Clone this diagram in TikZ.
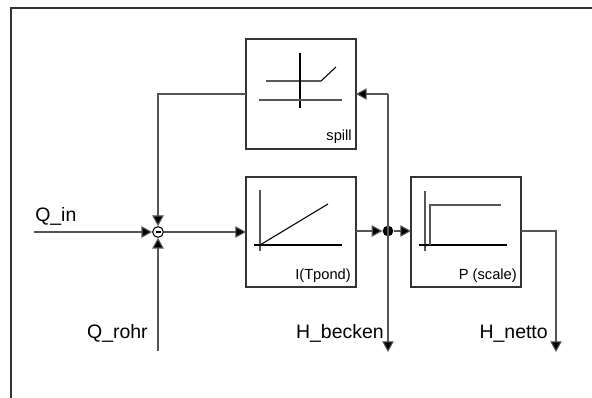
\documentclass[tikz,border=0pt]{standalone}
\usepackage{fontspec}
\setmainfont{Liberation Sans}
\usetikzlibrary{arrows.meta}
\definecolor{ln}{HTML}{555555}
\definecolor{bx}{HTML}{333333}
\tikzset{
  blk/.style={draw=bx, line width=0.9pt, minimum width=82.5pt, minimum height=82.5pt, inner sep=0pt, outer sep=0pt},
  conn/.style={draw=ln, line width=0.8pt},
  arr/.style={conn, -{Triangle[length=8pt,width=8.5pt,fill=black]}},
  lbl/.style={font=\fontsize{14.6}{16}\selectfont, inner sep=0pt},
  slbl/.style={font=\fontsize{11}{13}\selectfont, inner sep=0pt},
  icon/.style={line width=0.8pt, draw=black},
  icong/.style={line width=0.8pt, draw=ln},
}
\begin{document}
\begin{tikzpicture}[x=0.75pt,y=-0.75pt]
\useasboundingbox (0,0) rectangle (592,398);
\fill[white] (0,0) rectangle (592,398);
% frame
\draw[draw=bx, line width=1.1pt] (11,398) -- (11,8) -- (592,8);
% blocks
\node[blk] (spill) at (301,94) {};
\node[blk] (integ) at (301,232) {};
\node[blk] (scale) at (466,232) {};
\node[circle, draw=black, line width=0.8pt, minimum size=8pt, inner sep=0pt, fill=white] (sum) at (158,232) {};
\draw[line width=0.8pt] (155.5,232) -- (160.5,232);
\node[circle, fill=black, minimum size=8pt, inner sep=0pt] (dot) at (388,231) {};
% spill icon
\draw[icon] (300,53) -- (300,108);
\draw[icon] (266,81) -- (321,81) -- (336,67);
\draw[icong] (259,100) -- (342,100);
\node[slbl, anchor=base east] (tspill) at (352,141) {spill};
% integ icon
\draw[icong] (260,190) -- (260,251);
\draw[icon] (254,245) -- (342,245);
\draw[icon] (260,245) -- (328,204);
\node[slbl, anchor=base east] (tinteg) at (351,280) {I(Tpond)};
% scale icon
\draw[icong] (425,191) -- (425,251);
\draw[icon] (419,245) -- (507,245);
\draw[icong] (430,245) -- (430,205) -- (501,205);
\node[slbl, anchor=base east] (tscale) at (517,280) {P (scale)};
% labels and coordinates
\coordinate (qin) at (34,232);
\coordinate (qrohr) at (158,351);
\coordinate (fbl) at (158,94);
\coordinate (fbr) at (388,94);
\coordinate (hb) at (388,352);
\coordinate (hn1) at (556,231);
\coordinate (hn) at (556,352);
\node[lbl, anchor=base west] (tqin) at (35,222) {Q\_in};
\node[lbl, anchor=base east] (tqrohr) at (148,339) {Q\_rohr};
\node[lbl, anchor=base east] (thb) at (384,339) {H\_becken};
\node[lbl, anchor=base east] (thn) at (548,339) {H\_netto};
% connectors
\draw[arr] (qin) -- (sum.west);
\draw[arr] (spill.west |- fbl) -- (fbl) -- (sum.north);
\draw[arr] (qrohr) -- (sum.south);
\draw[arr] (sum.east) -- (integ.west);
\draw[arr] (integ.east |- dot) -- (dot.west);
\draw[arr] (dot.east) -- (scale.west |- dot);
\draw[arr] (fbr) -- (hb);
\draw[arr] (fbr) -- (spill.east |- fbr);
\draw[arr] (scale.east |- hn1) -- (hn1) -- (hn);
\end{tikzpicture}
\end{document}
